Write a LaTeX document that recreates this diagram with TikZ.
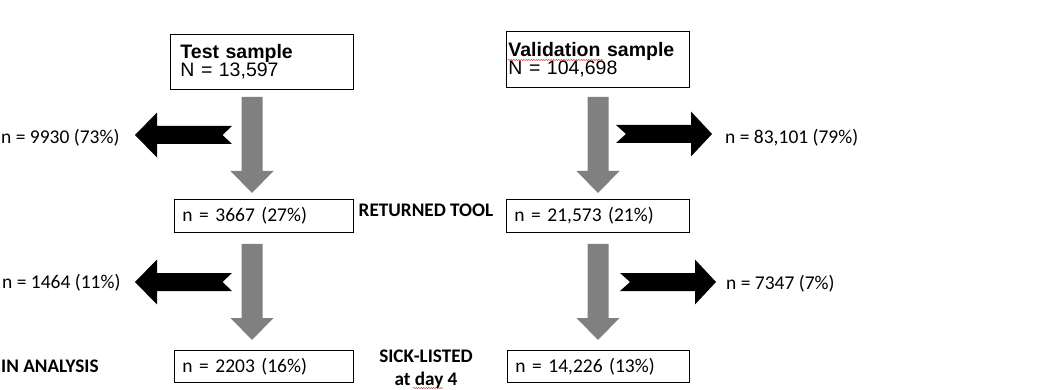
\documentclass[tikz,border=0pt]{standalone}
\usepackage{fontspec}
\setmainfont{Carlito}
\newfontfamily\arialfont{Liberation Sans}
\usetikzlibrary{positioning,decorations.pathmorphing}
\definecolor{flowgray}{RGB}{128,128,128}
\definecolor{spellred}{RGB}{220,40,40}
\newcommand{\countfont}{\fontsize{19.5}{22}\selectfont}
\newcommand{\stagefont}{\fontsize{19.2}{23}\selectfont\bfseries}
\newcommand{\downblock}[1]{\fill[flowgray] #1 ++(-10.5,0) -- ++(21,0) -- ++(0,74) -- ++(11,0) -- ++(-21.5,22) -- ++(-21.5,-22) -- ++(11,0) -- cycle;}
\newcommand{\leftblock}[1]{\fill[black] #1 -- ++(22,-22.5) -- ++(0,13.5) -- ++(75,0) -- ++(-9.5,9) -- ++(9.5,9) -- ++(-75,0) -- ++(0,13.5) -- cycle;}
\newcommand{\rightblock}[1]{\fill[black] #1 -- ++(-21,-22.5) -- ++(0,13.5) -- ++(-75,0) -- ++(10,9) -- ++(-10,9) -- ++(75,0) -- ++(0,13.5) -- cycle;}
\newcommand{\squiggle}[2]{\draw[spellred,line width=0.5pt,decorate,decoration={snake,amplitude=0.5pt,segment length=2.5pt}] #1 -- #2;}

\begin{document}
\begin{tikzpicture}[x=1pt,y=-1pt,
  samplebox/.style={draw,line width=0.9pt,anchor=north west,inner ysep=0pt,align=left,font=\arialfont\fontsize{19.5}{18.4}\selectfont},
  countbox/.style={draw,line width=0.9pt,anchor=north west,inner xsep=8pt,inner ysep=0pt,align=left,font=\countfont},
  dropout/.style={anchor=base west,inner sep=0pt,font=\countfont},
  stagelabel/.style={inner sep=0pt,align=center,font=\stagefont}]
\useasboundingbox (0,0) rectangle (1055,390);
\node[samplebox,inner xsep=10pt,text width=163pt,minimum height=55pt] (test) at (170,34) {\textbf{Test sample}\\N = 13,597};
\node[samplebox,inner xsep=2pt,text width=179pt,minimum height=56pt] (valid) at (506,31) {\textbf{Validation sample}\\N = 104,698};
\node[countbox,text width=163pt,minimum height=33pt] (testret) at (174,199) {n = 3667 (27\%)};
\node[countbox,text width=167pt,minimum height=33pt] (validret) at (506,199) {n = 21,573 (21\%)};
\node[countbox,text width=163pt,minimum height=32pt] (testsick) at (174,350) {n = 2203 (16\%)};
\node[countbox,text width=166pt,minimum height=32pt] (validsick) at (507,350) {n = 14,226 (13\%)};
\node[stagelabel,anchor=base] (returned) at (426,217) {RETURNED TOOL};
\node[stagelabel,anchor=base west] (analysis) at (1,372) {IN ANALYSIS};
\node[stagelabel,anchor=base] (sick) at (426,385) {SICK-LISTED\\at day 4};
\node[dropout] (testout1) at (1,144) {n = 9930 (73\%)};
\node[dropout] (testout2) at (2,288) {n = 1464 (11\%)};
\node[dropout] (validout1) at (725,144) {n = 83,101 (79\%)};
\node[dropout] (validout2) at (726,289) {n = 7347 (7\%)};
\downblock{(252,97)} \downblock{(252,244)}
\downblock{(598,97)} \downblock{(598,244)}
\leftblock{(135,135)} \leftblock{(135,282)}
\rightblock{(712,134)} \rightblock{(716,282)}
\squiggle{(508,60)}{(603,60)} \squiggle{(413,388)}{(443,388)}
\end{tikzpicture}
\end{document}
